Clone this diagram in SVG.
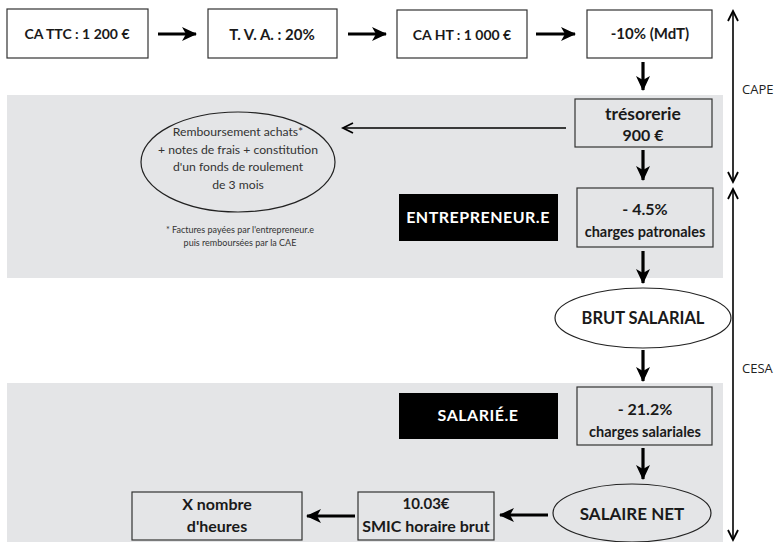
<svg xmlns="http://www.w3.org/2000/svg" width="784" height="542" viewBox="0 0 784 542">
<style>
.band{fill:#e4e5e7}
.box{fill:#fff;stroke:#333;stroke-width:1.2}
.gbox{fill:#e4e5e7;stroke:#333;stroke-width:1.2}
.blk{fill:#000}
.t{font-family:Lato,"Open Sans",sans-serif;font-weight:bold;fill:#1a1a1a;text-anchor:middle}
.w{font-family:Lato,"Open Sans",sans-serif;font-weight:bold;fill:#fff;text-anchor:middle;font-size:16px;letter-spacing:0.5px}
.r{font-family:Lato,"Open Sans",sans-serif;fill:#333;text-anchor:middle}
.side{font-family:"Open Sans",sans-serif;fill:#222;font-size:13px}
.thick{stroke:#000;stroke-width:3.2;fill:none}
.thin{stroke:#000;stroke-width:1.6;fill:none}
</style>
<defs>
<marker id="ah" markerUnits="userSpaceOnUse" markerWidth="16" markerHeight="14" refX="14" refY="7" orient="auto">
<path d="M0,0 L15,7 L0,14 L4,7 Z" fill="#000"/>
</marker>
<marker id="tl" markerUnits="userSpaceOnUse" markerWidth="14" markerHeight="12" refX="11" refY="6" orient="auto-start-reverse">
<path d="M1,1 L11,6 L1,11" fill="none" stroke="#000" stroke-width="1.8"/>
</marker>
</defs>
<rect class="band" x="7" y="95" width="716" height="183"/>
<rect class="band" x="7" y="383" width="716" height="159"/>
<g id="n1"><rect class="box" x="7" y="9" width="141" height="49"/><text class="t" x="77" y="39" font-size="14">CA TTC : 1 200 €</text></g>
<g id="n2"><rect class="box" x="208" y="9" width="129" height="49"/><text class="t" x="272" y="40" font-size="15">T. V. A. : 20%</text></g>
<g id="n3"><rect class="box" x="397" y="10" width="130" height="48"/><text class="t" x="462" y="40" font-size="14">CA HT : 1 000 €</text></g>
<g id="n4"><rect class="box" x="587" y="10" width="125" height="48"/><text class="t" x="650" y="39" font-size="15">-10% (MdT)</text></g>
<g id="n5"><rect class="gbox" x="575" y="99" width="137" height="48"/><text class="t" x="643" y="120" font-size="17.5">trésorerie</text><text class="t" x="643" y="141" font-size="16">900 €</text></g>
<g id="n6"><ellipse cx="238" cy="162" rx="97" ry="50" fill="#e4e5e7" stroke="#222" stroke-width="1.2"/>
<text class="r" font-size="12.2"><tspan x="238" y="136">Remboursement achats*</tspan><tspan x="238" y="154">+ notes de frais + constitution</tspan><tspan x="238" y="171">d'un fonds de roulement</tspan><tspan x="238" y="189">de 3 mois</tspan></text></g>
<g id="n7"><text class="r" font-size="9"><tspan x="240" y="233">* Factures payées par l'entrepreneur.e</tspan><tspan x="240" y="246">puis remboursées par la CAE</tspan></text></g>
<g id="n8"><rect class="blk" x="399" y="194" width="159" height="47"/><text class="w" x="478" y="223">ENTREPRENEUR.E</text></g>
<g id="n9"><rect class="gbox" x="577" y="188" width="136" height="59"/><text class="t" x="645" y="215" font-size="16">- 4.5%</text><text class="t" x="645" y="237" font-size="14.5">charges patronales</text></g>
<g id="n10"><ellipse cx="643" cy="318" rx="88" ry="30" fill="#fff" stroke="#222" stroke-width="1.2"/><text class="t" x="643" y="324" font-size="16.5">BRUT SALARIAL</text></g>
<g id="n11"><rect class="blk" x="399" y="393" width="159" height="46"/><text class="w" x="478" y="421">SALARIÉ.E</text></g>
<g id="n12"><rect class="gbox" x="577" y="387" width="135" height="58"/><text class="t" x="645" y="415" font-size="16">- 21.2%</text><text class="t" x="645" y="437" font-size="14.5">charges salariales</text></g>
<g id="n13"><ellipse cx="632" cy="513" rx="79" ry="29" fill="#e4e5e7" stroke="#222" stroke-width="1.2"/><text class="t" x="632" y="520" font-size="17">SALAIRE NET</text></g>
<g id="n14"><rect class="gbox" x="358" y="492" width="136" height="48"/><text class="t" x="426" y="509" font-size="15">10.03€</text><text class="t" x="426" y="532" font-size="16">SMIC horaire brut</text></g>
<g id="n15"><rect class="gbox" x="132" y="492" width="170" height="48"/><text class="t" x="217" y="510" font-size="16">X nombre</text><text class="t" x="217" y="532" font-size="16">d'heures</text></g>
<g id="cape"><text class="side" x="742" y="94">CAPE</text></g>
<g id="cesa"><text class="side" x="742" y="373">CESA</text></g>
<g id="connectors">
<line class="thick" x1="158" y1="34" x2="196" y2="34" marker-end="url(#ah)"/>
<line class="thick" x1="348" y1="34" x2="386" y2="34" marker-end="url(#ah)"/>
<line class="thick" x1="536" y1="34" x2="575" y2="34" marker-end="url(#ah)"/>
<line class="thick" x1="643" y1="62" x2="643" y2="90" marker-end="url(#ah)"/>
<line class="thick" x1="643" y1="150" x2="643" y2="180" marker-end="url(#ah)"/>
<line class="thick" x1="643" y1="251" x2="643" y2="283" marker-end="url(#ah)"/>
<line class="thick" x1="643" y1="350" x2="643" y2="381" marker-end="url(#ah)"/>
<line class="thick" x1="643" y1="448" x2="643" y2="479" marker-end="url(#ah)"/>
<line class="thick" x1="548" y1="515" x2="500" y2="515" marker-end="url(#ah)"/>
<line class="thick" x1="355" y1="516" x2="307" y2="516" marker-end="url(#ah)"/>
<line class="thin" x1="566" y1="128" x2="343" y2="128" marker-end="url(#tl)"/>
<line class="thin" x1="733" y1="11" x2="733" y2="182" marker-start="url(#tl)" marker-end="url(#tl)"/>
<line class="thin" x1="733" y1="189" x2="733" y2="540" marker-start="url(#tl)" marker-end="url(#tl)"/>
</g>
</svg>
